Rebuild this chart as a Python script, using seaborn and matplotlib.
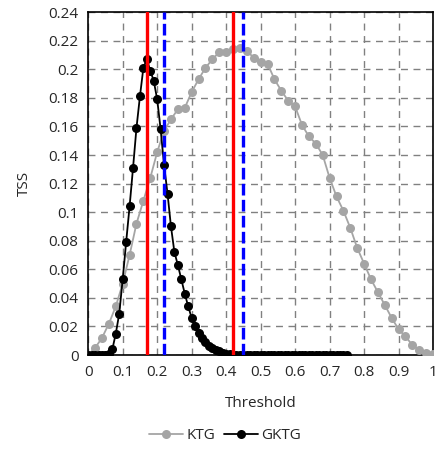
import numpy as np
import pandas as pd
import matplotlib
matplotlib.use("Agg")
import matplotlib.pyplot as plt
import seaborn as sns

# ── Data ──────────────────────────────────────────────────────────────
ktg_threshold = np.round(np.arange(0, 1.0001, 0.02), 2)
ktg_tss = [
    0.000, 0.005, 0.012, 0.022, 0.034, 0.050, 0.070, 0.092, 0.108, 0.124,
    0.142, 0.157, 0.165, 0.172, 0.173, 0.184, 0.193, 0.201, 0.207, 0.212,
    0.212, 0.214, 0.215, 0.213, 0.208, 0.205, 0.204, 0.193, 0.185, 0.178,
    0.174, 0.161, 0.153, 0.148, 0.140, 0.124, 0.111, 0.101, 0.089, 0.075,
    0.064, 0.053, 0.044, 0.035, 0.026, 0.018, 0.013, 0.007, 0.0035, 0.0015,
    0.0005,
]

gktg_threshold = np.round(np.arange(0, 0.7501, 0.01), 2)
gktg_tss = [
    0.000, 0.000, 0.000, 0.000, 0.000, 0.0003, 0.0008, 0.004, 0.015, 0.029,
    0.053, 0.079, 0.104, 0.131, 0.159, 0.181, 0.201, 0.207, 0.199, 0.192,
    0.179, 0.158, 0.133, 0.113, 0.090, 0.072, 0.063, 0.053, 0.043, 0.034,
    0.026, 0.020, 0.0155, 0.0117, 0.009, 0.0065, 0.005, 0.0035, 0.0025, 0.0017,
    0.001, 0.0006, 0.0003, 0.0001,
] + [0.0] * 32

red_lines = [0.17, 0.42]
blue_lines = [0.22, 0.45]

x_ticks = np.round(np.arange(0, 1.0001, 0.1), 1)
y_ticks = np.round(np.arange(0, 0.2401, 0.02), 2)


def fmt(v):
    # Excel "General" style labels: 0, 0.1, 0.2 ... 1
    return f"{v:.2f}".rstrip("0").rstrip(".")


df = pd.concat([
    pd.DataFrame({"Threshold": ktg_threshold, "TSS": ktg_tss, "series": "KTG"}),
    pd.DataFrame({"Threshold": gktg_threshold, "TSS": gktg_tss, "series": "GKTG"}),
])

# ── Plot ──────────────────────────────────────────────────────────────
sns.set_style("white")
plt.rcParams["font.family"] = ["Open Sans", "DejaVu Sans"]

fig = plt.figure(figsize=(4.41, 4.5), dpi=100)
ax = fig.add_axes([0.2, 0.211, 0.782, 0.762])

sns.lineplot(data=df, x="Threshold", y="TSS", hue="series",
             palette={"KTG": "#a5a5a5", "GKTG": "#000000"},
             marker="o", markersize=6.5, markeredgewidth=0, linewidth=1.3,
             sort=False, ax=ax, legend=True, zorder=3)

for xv in red_lines:
    ax.axvline(xv, color="#ff0000", linewidth=2.4, zorder=4)
for xv in blue_lines:
    ax.axvline(xv, color="#0000ff", linewidth=2.4, linestyle=(0, (3.5, 1.3)), zorder=4)

ax.set_xlim(0, 1)
ax.set_ylim(0, 0.24)
ax.set_xticks(x_ticks)
ax.set_yticks(y_ticks)
ax.set_xticklabels([fmt(v) for v in x_ticks])
ax.set_yticklabels([fmt(v) for v in y_ticks])
ax.tick_params(axis="both", direction="out", length=4, width=1, labelsize=11, pad=3)

ax.grid(True, color="#808080", linestyle=(0, (5, 4)), linewidth=1)
ax.set_axisbelow(True)
for sp in ax.spines.values():
    sp.set_color("black")
    sp.set_linewidth(1.2)

ax.set_xlabel("Threshold", fontsize=11, labelpad=12)
ax.set_ylabel("TSS", fontsize=11, labelpad=12)

handles, labels = ax.get_legend_handles_labels()
ax.legend(handles, labels, loc="upper center", bbox_to_anchor=(0.51, 0.065),
          bbox_transform=fig.transFigure,
          ncol=2, frameon=False, fontsize=11, handlelength=2.2,
          handletextpad=0.2, columnspacing=0.6, borderpad=0)

fig.savefig("out.png", dpi=100)
